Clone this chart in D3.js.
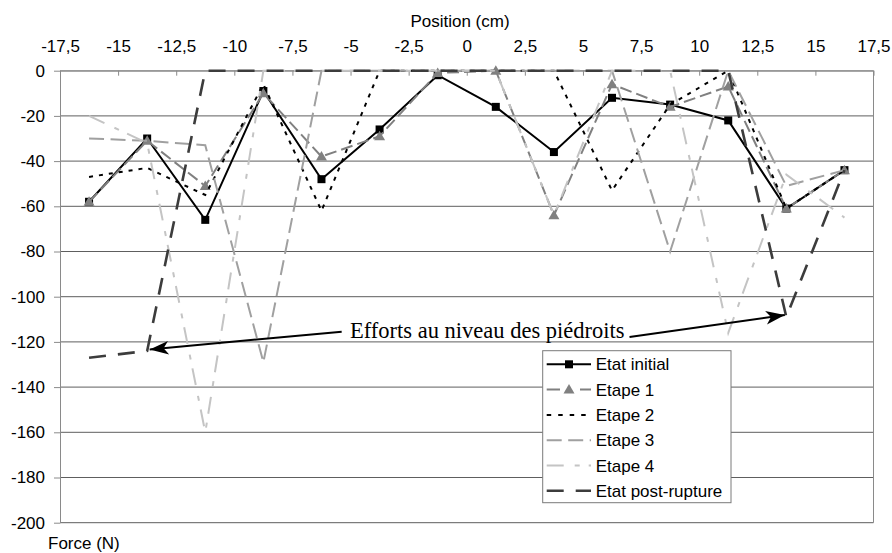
<!DOCTYPE html>
<html>
<head>
<meta charset="utf-8">
<script src="https://cdn.jsdelivr.net/npm/d3@7"></script>
<style>
  html, body { margin: 0; padding: 0; background: #fff; }
  svg { display: block; }
</style>
</head>
<body>
<svg id="chart" width="892" height="553"></svg>
<script>
// Measuring positions (cm) along the section
const positions = [-16.25, -13.75, -11.25, -8.75, -6.25, -3.75, -1.25, 1.25, 3.75, 6.25, 8.75, 11.25, 13.75, 16.25];

// Force (N) at each position, for each loading state
const etatInitial  = [-58, -30, -66,  -9, -48, -26, -2, -16, -36, -12, -15,  -22, -61, -44];
const etape1       = [-58, -31, -51, -10, -38, -29, -1,   0, -64,  -6, -16,   -7, -61, -44];
const etape2       = [-47, -43, -55,  -6, -62,   0,  0,   0,   0, -53, -15,    0, -61, -44];
const etape3       = [-30, -31, -33, -129,  0,   0,  0,   0,   0,   0, -80,    0, -51, -44];
const etape4       = [-20, -32, -160,  0,   0,   0,  0,   0, -64,   0,   0, -116, -46, -65];
const postRupture  = [-127, -124, 0,   0,   0,   0,  0,   0,   0,   0,   0,    0, -109, -44];

const seriesNames = ["Etat initial", "Etape 1", "Etape 2", "Etape 3", "Etape 4", "Etat post-rupture"];

// Axis ticks
const xTicks = [-17.5, -15, -12.5, -10, -7.5, -5, -2.5, 0, 2.5, 5, 7.5, 10, 12.5, 15, 17.5];
const yTicks = [0, -20, -40, -60, -80, -100, -120, -140, -160, -180, -200];

const xTitle = "Position (cm)";
const yTitle = "Force (N)";
const noteText = "Efforts au niveau des piédroits";

// ---------------------------------------------------------------
const svg = d3.select("#chart");
const plotLeft = 60, plotRight = 873.5, plotTop = 70.7, plotBottom = 522.7;

const x = d3.scaleLinear().domain([-17.5, 17.5]).range([plotLeft, plotRight]);
const y = d3.scaleLinear().domain([-200, 0]).range([plotBottom, plotTop]);

const fr = d3.formatLocale({decimal: ",", thousands: " ", grouping: [3], currency: ["", " €"], minus: "-"});
const fmt = fr.format("~g");

const sans = "'Liberation Sans', Arial, sans-serif";

// horizontal gridlines
svg.append("g")
  .selectAll("line")
  .data(yTicks)
  .join("line")
  .attr("x1", plotLeft).attr("x2", plotRight)
  .attr("y1", d => y(d)).attr("y2", d => y(d))
  .attr("stroke", d => d === 0 ? "#8a8a8a" : "#5e5e5e")
  .attr("stroke-width", 1);

// right border
svg.append("line")
  .attr("x1", plotRight).attr("x2", plotRight).attr("y1", plotTop).attr("y2", plotBottom)
  .attr("stroke", "#8a8a8a");

// top x axis, ticks pointing into the plot
const gx = svg.append("g")
  .attr("transform", `translate(0,${plotTop})`)
  .call(d3.axisTop(x).tickValues(xTicks).tickFormat(fmt).tickSize(-5).tickSizeOuter(0).tickPadding(18.7));
gx.select(".domain").attr("stroke", "#8a8a8a");
gx.selectAll(".tick line").attr("stroke", "#8a8a8a");
gx.selectAll("text").attr("font-family", sans).attr("font-size", 17).attr("fill", "#000");

// left y axis
const gy = svg.append("g")
  .attr("transform", `translate(${plotLeft},0)`)
  .call(d3.axisLeft(y).tickValues(yTicks).tickFormat(fmt).tickSize(6).tickSizeOuter(0).tickPadding(9));
gy.select(".domain").attr("stroke", "#8a8a8a");
gy.selectAll(".tick line").attr("stroke", "#8a8a8a");
gy.selectAll("text").attr("font-family", sans).attr("font-size", 17).attr("fill", "#000");

// axis titles
svg.append("text")
  .attr("x", 460).attr("y", 27.3)
  .attr("text-anchor", "middle")
  .attr("font-family", sans).attr("font-size", 17)
  .text(xTitle);

svg.append("text")
  .attr("x", 48).attr("y", 548.5)
  .attr("font-family", sans).attr("font-size", 17)
  .text(yTitle);

// ---------------------------------------------------------------
const styles = [
  {values: etatInitial, color: "#000000", width: 2,   dash: null,          marker: "square"},
  {values: etape1,      color: "#808080", width: 2,   dash: "12,5",        marker: "triangle"},
  {values: etape2,      color: "#000000", width: 2,   dash: "4,6",         marker: null},
  {values: etape3,      color: "#a0a0a0", width: 2,   dash: "15,6.5",      marker: null},
  {values: etape4,      color: "#c4c4c4", width: 2,   dash: "17,11,5,9",   marker: null},
  {values: postRupture, color: "#3c3c3c", width: 2.6, dash: "17,12",       marker: null}
];

const line = d3.line().x(d => x(d[0])).y(d => y(d[1]));

const triPath = "M0,-5.5L5.5,4L-5.5,4Z";

styles.forEach(s => {
  const pts = positions.map((p, i) => [p, s.values[i]]);
  svg.append("path")
    .datum(pts)
    .attr("d", line)
    .attr("fill", "none")
    .attr("stroke", s.color)
    .attr("stroke-width", s.width)
    .attr("stroke-dasharray", s.dash)
    .attr("stroke-linejoin", "miter");
  if (s.marker === "square") {
    svg.append("g").selectAll("rect").data(pts).join("rect")
      .attr("x", d => x(d[0]) - 4).attr("y", d => y(d[1]) - 4)
      .attr("width", 8).attr("height", 8)
      .attr("fill", s.color);
  } else if (s.marker === "triangle") {
    svg.append("g").selectAll("path").data(pts).join("path")
      .attr("transform", d => `translate(${x(d[0])},${y(d[1])})`)
      .attr("d", triPath)
      .attr("fill", s.color);
  }
});

// ---------------------------------------------------------------
// annotation: text with two arrows pointing at the post-rupture peaks
svg.append("defs").append("marker")
  .attr("id", "arrowhead")
  .attr("viewBox", "-20 -8 22 16")
  .attr("refX", 0).attr("refY", 0)
  .attr("markerWidth", 22).attr("markerHeight", 16)
  .attr("markerUnits", "userSpaceOnUse")
  .attr("orient", "auto")
  .append("path")
  .attr("d", "M0,0L-19,-6.8L-14,0L-19,6.8Z")
  .attr("fill", "#000");

const note = svg.append("text")
  .attr("x", 350).attr("y", 337.5)
  .attr("font-family", "'Liberation Serif', 'Times New Roman', serif")
  .attr("font-size", 22.5)
  .attr("fill", "#000")
  .text(noteText);

const noteEnd = 350 + note.node().getComputedTextLength();

const arrows = [
  {from: [341.7, 331.7], to: [x(positions[1]) + 2.5, y(postRupture[1]) - 1.5]},
  {from: [noteEnd + 5, 337], to: [x(positions[12]) - 1.5, y(postRupture[12]) - 2]}
];

svg.append("g").selectAll("line").data(arrows).join("line")
  .attr("x1", d => d.from[0]).attr("y1", d => d.from[1])
  .attr("x2", d => d.to[0]).attr("y2", d => d.to[1])
  .attr("stroke", "#000").attr("stroke-width", 2)
  .attr("marker-end", "url(#arrowhead)");

// ---------------------------------------------------------------
// legend
const lg = svg.append("g");
lg.append("rect")
  .attr("x", 542.7).attr("y", 350.7)
  .attr("width", 188.3).attr("height", 152)
  .attr("fill", "#fff").attr("stroke", "#7a7a7a").attr("stroke-width", 1);

const legendLineDash = ["", "13.3,20,11", "4.5,7", "15,6.5", "17,11,5,9", "17,12"];

styles.forEach((s, i) => {
  const cy = 364.3 + i * 25.3;
  lg.append("line")
    .attr("x1", 546.7).attr("x2", 591)
    .attr("y1", cy).attr("y2", cy)
    .attr("stroke", s.color)
    .attr("stroke-width", s.width)
    .attr("stroke-dasharray", legendLineDash[i] || null);
  if (s.marker === "square") {
    lg.append("rect").attr("x", 569 - 4).attr("y", cy - 4).attr("width", 8).attr("height", 8).attr("fill", s.color);
  } else if (s.marker === "triangle") {
    lg.append("path").attr("transform", `translate(569,${cy})`).attr("d", triPath).attr("fill", s.color);
  }
  lg.append("text")
    .attr("x", 595.7).attr("y", cy)
    .attr("dy", "0.36em")
    .attr("font-family", sans).attr("font-size", 17)
    .attr("fill", "#000")
    .text(seriesNames[i]);
});
</script>
</body>
</html>
